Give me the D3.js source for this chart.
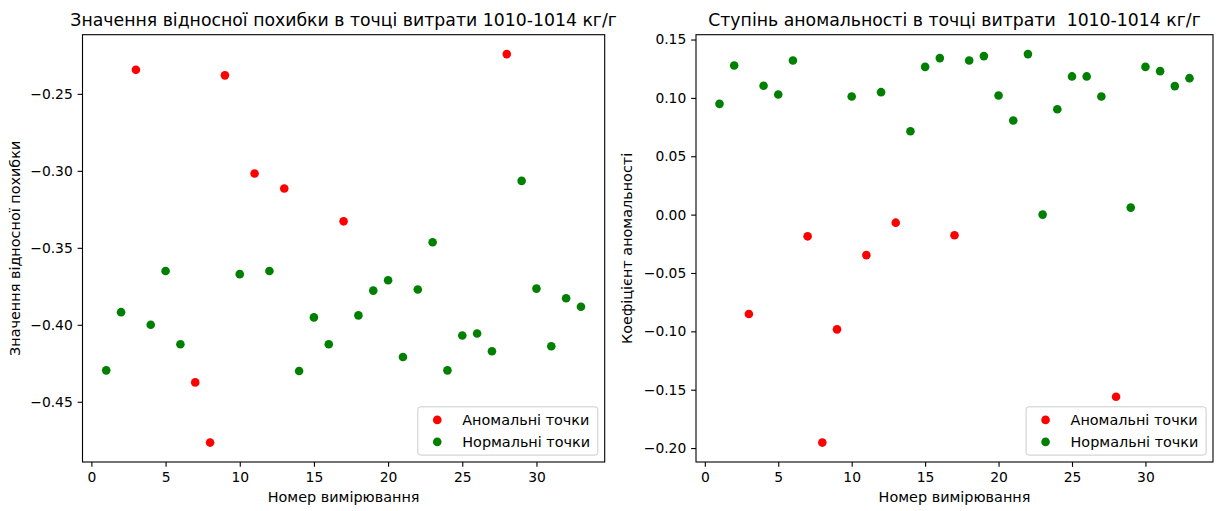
<!DOCTYPE html>
<html>
<head>
<meta charset="utf-8">
<script src="https://cdn.jsdelivr.net/npm/d3@7"></script>
<style>
  html, body { margin: 0; padding: 0; background: #ffffff; }
  svg { display: block; font-family: "DejaVu Sans", sans-serif; }
  text { white-space: pre; }
</style>
</head>
<body>
<svg id="chart" width="1224" height="511"></svg>
<script>
// ---------------- data ----------------
const measurement = [1, 2, 3, 4, 5, 6, 7, 8, 9, 10, 11, 12, 13, 14, 15, 16, 17,
  18, 19, 20, 21, 22, 23, 24, 25, 26, 27, 28, 29, 30, 31, 32, 33];

const relativeError = [-0.4296, -0.3918, -0.2344, -0.4000, -0.3651, -0.4126, -0.4374,
  -0.4765, -0.2380, -0.3671, -0.3017, -0.3651, -0.3115, -0.4300, -0.3952, -0.4126,
  -0.3328, -0.3939, -0.3778, -0.3711, -0.4209, -0.3771, -0.3464, -0.4296, -0.4070,
  -0.4057, -0.4172, -0.2242, -0.3065, -0.3765, -0.4139, -0.3828, -0.3883];

const anomalyScore = [0.0949, 0.1278, -0.0852, 0.1104, 0.1029, 0.1321, -0.0186,
  -0.1953, -0.0983, 0.1012, -0.0347, 0.1049, -0.0069, 0.0714, 0.1266, 0.1341,
  -0.0177, 0.1321, 0.1358, 0.1021, 0.0806, 0.1375, 0.0000, 0.0903, 0.1184, 0.1184,
  0.1012, -0.1561, 0.0060, 0.1266, 0.1229, 0.1101, 0.1169];

const anomalousPoints = [3, 7, 8, 9, 11, 13, 17, 28];

const xTicks = [0, 5, 10, 15, 20, 25, 30];
const yTicksLeft = [-0.45, -0.40, -0.35, -0.30, -0.25];
const yTicksRight = [-0.20, -0.15, -0.10, -0.05, 0.00, 0.05, 0.10, 0.15];

const seriesNames = ["Аномальні точки", "Нормальні точки"];
const xLabel = "Номер вимірювання";
const titles = ["Значення відносної похибки в точці витрати 1010-1014 кг/г",
                "Ступінь аномальності в точці витрати  1010-1014 кг/г"];
const yLabels = ["Значення відносної похибки", "Коефіцієнт аномальності"];

// ---------------- drawing ----------------
const svg = d3.select("#chart");
const FS = 13.89, LABEL_FS = 14.4, TITLE_FS = 17.3, TICK = 4.86, PAD = 4.86;
const RED = "#ff0000", GREEN = "#008000";

function pad(ext) { const r = ext[1] - ext[0]; return [ext[0] - 0.05 * r, ext[1] + 0.05 * r]; }

function panel(box, values, yTicks, title, yLabel, yLabelX) {
  const g = svg.append("g");
  const x = d3.scaleLinear().domain(pad(d3.extent(measurement))).range([box.x0, box.x1]);
  const y = d3.scaleLinear().domain(pad(d3.extent(values))).range([box.y1, box.y0]);

  const pts = measurement.map((m, i) => ({ m, v: values[i], anom: anomalousPoints.includes(m) }));

  g.append("rect").attr("x", box.x0).attr("y", box.y0)
    .attr("width", box.x1 - box.x0).attr("height", box.y1 - box.y0).attr("fill", "#fff");

  // points: anomalies first, then normals
  g.append("g").selectAll("circle").data(pts.filter(d => d.anom)).join("circle")
    .attr("cx", d => x(d.m)).attr("cy", d => y(d.v)).attr("r", 4.3).attr("fill", RED);
  g.append("g").selectAll("circle").data(pts.filter(d => !d.anom)).join("circle")
    .attr("cx", d => x(d.m)).attr("cy", d => y(d.v)).attr("r", 4.3).attr("fill", GREEN);

  // axes
  const xa = g.append("g").attr("transform", `translate(0,${box.y1})`)
    .call(d3.axisBottom(x).tickValues(xTicks).tickFormat(d3.format("d")).tickSize(TICK).tickPadding(PAD));
  const ya = g.append("g").attr("transform", `translate(${box.x0},0)`)
    .call(d3.axisLeft(y).tickValues(yTicks).tickFormat(d3.format(".2f")).tickSize(TICK).tickPadding(PAD));
  [xa, ya].forEach(a => {
    a.select(".domain").remove();
    a.selectAll("line").attr("stroke", "#000").attr("stroke-width", 1.1);
    a.selectAll("text").attr("fill", "#000").attr("font-size", FS)
      .attr("font-family", "DejaVu Sans, sans-serif");
  });

  // frame
  g.append("rect").attr("x", box.x0).attr("y", box.y0)
    .attr("width", box.x1 - box.x0).attr("height", box.y1 - box.y0)
    .attr("fill", "none").attr("stroke", "#000").attr("stroke-width", 1.1);

  // title
  g.append("text").attr("x", (box.x0 + box.x1) / 2).attr("y", box.y0 - 8.3)
    .attr("text-anchor", "middle").attr("font-size", TITLE_FS).attr("fill", "#000")
    .attr("xml:space", "preserve").text(title);

  // x label
  g.append("text").attr("x", (box.x0 + box.x1) / 2).attr("y", 502)
    .attr("text-anchor", "middle").attr("font-size", LABEL_FS).attr("fill", "#000").text(xLabel);

  // y label
  g.append("text").attr("transform", `translate(${yLabelX},${(box.y0 + box.y1) / 2}) rotate(-90)`)
    .attr("text-anchor", "middle").attr("font-size", LABEL_FS).attr("fill", "#000").text(yLabel);

  // legend (lower right)
  const lw = 180, lh = 48.3;
  const lx = box.x1 - 6.9 - lw, ly = box.y1 - 6.9 - lh;
  const lg = g.append("g");
  lg.append("rect").attr("x", lx).attr("y", ly).attr("width", lw).attr("height", lh)
    .attr("rx", 2.8).attr("ry", 2.8)
    .attr("fill", "#fff").attr("fill-opacity", 0.8).attr("stroke", "#cccccc").attr("stroke-width", 1);
  [RED, GREEN].forEach((c, i) => {
    const cy = ly + 5.56 + 7.55 + i * 22;
    lg.append("circle").attr("cx", lx + 5.56 + 13.9).attr("cy", cy).attr("r", 4.3).attr("fill", c);
    lg.append("text").attr("x", lx + 5.56 + 27.8 + 11.1).attr("y", cy).attr("dy", "0.35em")
      .attr("font-size", LABEL_FS).attr("fill", "#000").text(seriesNames[i]);
  });
}

panel({ x0: 82.5, x1: 604.7, y0: 34.7, y1: 462 }, relativeError, yTicksLeft, titles[0], yLabels[0], 20);
panel({ x0: 696, x1: 1213, y0: 34.7, y1: 462 }, anomalyScore, yTicksRight, titles[1], yLabels[1], 632);
</script>
</body>
</html>
